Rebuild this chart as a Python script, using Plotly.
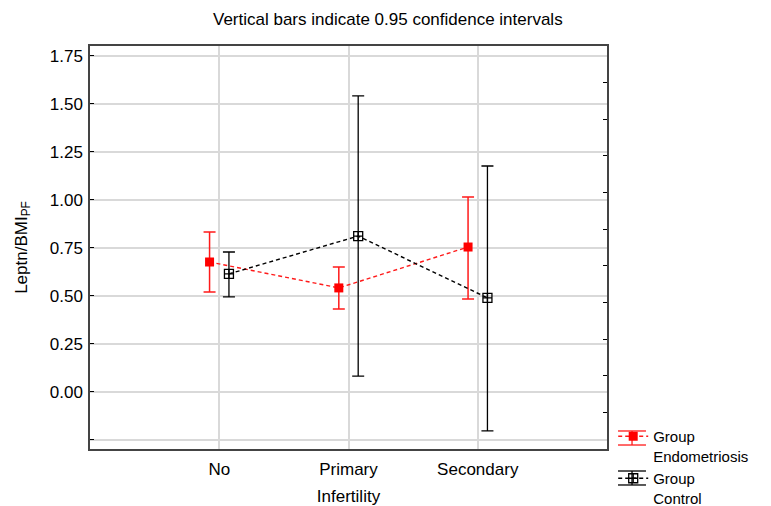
import plotly.graph_objects as go

categories = ["No", "Primary", "Secondary"]
endo_mean = [0.677, 0.542, 0.755]
endo_upper = [0.833, 0.651, 1.016]
endo_lower = [0.521, 0.432, 0.484]
ctrl_mean = [0.615, 0.812, 0.490]
ctrl_upper = [0.729, 1.542, 1.177]
ctrl_lower = [0.495, 0.083, -0.203]
y_ticks = [-0.25, 0.0, 0.25, 0.5, 0.75, 1.0, 1.25, 1.5, 1.75]
y_ticktext = ["", "0.00", "0.25", "0.50", "0.75", "1.00", "1.25", "1.50", "1.75"]

pos = [1, 2, 3]
off = 0.075
FONT = "Arial, Liberation Sans, sans-serif"
FS = 17
RED = "#ff1a1a"
DASH = "4px,3px"

fig = go.Figure()
fig.add_trace(go.Scatter(
    x=[p - off for p in pos], y=endo_mean, mode="lines+markers",
    name="Group<br>Endometriosis",
    line=dict(color=RED, dash=DASH, width=1.4),
    marker=dict(symbol="square", size=9, color="#ff0000"),
    error_y=dict(type="data", symmetric=False,
                 array=[u - m for u, m in zip(endo_upper, endo_mean)],
                 arrayminus=[m - l for m, l in zip(endo_mean, endo_lower)],
                 color=RED, thickness=1.5, width=6),
))
fig.add_trace(go.Scatter(
    x=[p + off for p in pos], y=ctrl_mean, mode="lines+markers",
    name="Group<br>Control",
    line=dict(color="#000000", dash=DASH, width=1.4),
    marker=dict(symbol="square-cross-open", size=9, color="#000000", line=dict(width=1.3)),
    error_y=dict(type="data", symmetric=False,
                 array=[u - m for u, m in zip(ctrl_upper, ctrl_mean)],
                 arrayminus=[m - l for m, l in zip(ctrl_mean, ctrl_lower)],
                 color="#000000", thickness=1.3, width=6),
))
# invisible trace for right-side ticks
fig.add_trace(go.Scatter(x=[1], y=[0], yaxis="y2", mode="markers",
                         marker=dict(opacity=0), showlegend=False, hoverinfo="skip"))

# legend error-bar glyph decoration (caps above/below the legend symbols)
legend_glyphs = [(RED, 0.0447, 0.0099), ("#000000", -0.0546, -0.0893)]
for col, ytop, ybot in legend_glyphs:
    for yy in (ytop, ybot):
        fig.add_shape(type="line", xref="paper", yref="paper",
                      x0=1.0213, x1=1.0754, y0=yy, y1=yy,
                      line=dict(color=col, width=1.3))
    fig.add_shape(type="line", xref="paper", yref="paper",
                  x0=1.0484, x1=1.0484, y0=ytop, y1=ybot,
                  line=dict(color=col, width=1.3), layer="below")

fig.update_layout(
    width=771, height=506,
    margin=dict(l=90, r=164, t=46, b=57, autoexpand=False),
    paper_bgcolor="white", plot_bgcolor="white",
    font=dict(family=FONT, size=FS, color="#000"),
    title=dict(text="Vertical bars indicate 0.95 confidence intervals",
               x=0.503, xanchor="center", y=0.962, yanchor="middle",
               font=dict(size=FS)),
    xaxis=dict(range=[0, 4], tickvals=pos, ticktext=categories,
               showgrid=True, gridcolor="#d9d9d9", gridwidth=1.5,
               showline=True, mirror=True, linecolor="#444", linewidth=1.5,
               ticks="", zeroline=False, automargin=False, ticklabelstandoff=4,
               title=dict(text="Infertility", standoff=16, font=dict(size=FS)),
               tickfont=dict(size=FS)),
    yaxis=dict(range=[-0.297, 1.802], tickvals=y_ticks, ticktext=y_ticktext,
               showgrid=True, gridcolor="#d9d9d9", gridwidth=1.5,
               showline=True, mirror=True, linecolor="#444", linewidth=1.5,
               ticks="inside", ticklen=4, tickcolor="#000", zeroline=False,
               automargin=False, ticklabelstandoff=2,
               title=dict(text="Leptn/BMI<sub>PF</sub>", standoff=18, font=dict(size=FS)),
               tickfont=dict(size=FS)),
    yaxis2=dict(range=[0, 11], dtick=1, overlaying="y", side="right",
                showticklabels=False, showgrid=False, zeroline=False,
                ticks="inside", ticklen=4, tickcolor="#000", showline=False,
                automargin=False),
    legend=dict(x=1.012, y=0.072, xanchor="left", yanchor="top",
                font=dict(size=15), tracegroupgap=0, itemwidth=30,
                valign="top", bgcolor="rgba(0,0,0,0)"),
)

fig.write_html("out.html")
